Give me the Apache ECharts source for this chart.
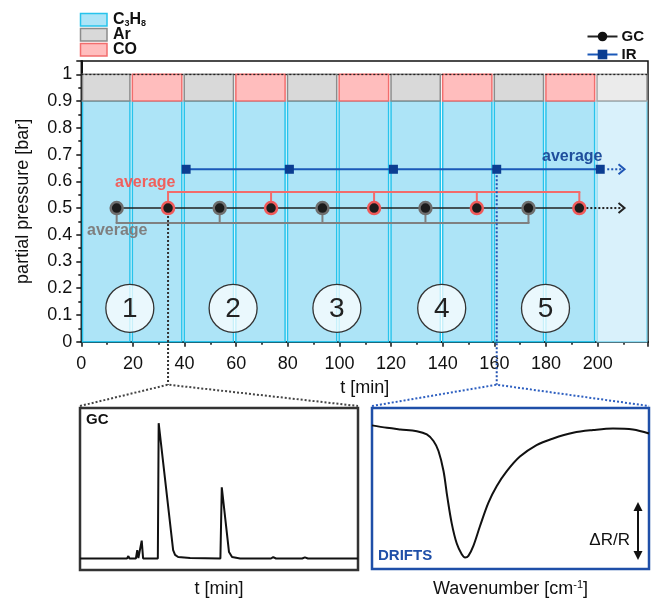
<!DOCTYPE html>
<html><head><meta charset="utf-8">
<script src="https://cdn.jsdelivr.net/npm/echarts@6/dist/echarts.min.js"></script>
<style>html,body{margin:0;padding:0;background:#fff}#c{width:651px;height:599px}</style>
</head><body><div id="c"></div><script>
// ---------------- data ----------------
const gcTimes = [13.7, 33.6, 53.6, 73.5, 93.4, 113.4, 133.3, 153.2, 173.2, 192.9];
const gcPhase = ['Ar','CO','Ar','CO','Ar','CO','Ar','CO','Ar','CO'];
const gcValue = 0.5;
const irTimes = [40.6, 80.6, 120.9, 160.9, 201.0];
const irValue = 0.645;
const blockEdges = [0, 19.3, 39.4, 59.4, 79.4, 99.4, 119.5, 139.5, 159.5, 179.5, 199.3, 219.5];
const blockGas = ['Ar','CO','Ar','CO','Ar','CO','Ar','CO','Ar','CO','next'];
const propaneLevel = 0.9;
const totalLevel = 1.0;
const coAvgLevel = 0.56;
const arAvgLevel = 0.444;
const arrowEnd = 210.4;
const stageLabels = ['1','2','3','4','5'];
const stageTimes = [18.8, 58.8, 99.0, 139.6, 179.8];
const stageLevel = 0.125;
const xTickStep = 20;
const yTickStep = 0.1;
const zoomGcIndex = 1;   // GC point shown in the inset
const zoomIrIndex = 3;   // IR point shown in the inset
// GC chromatogram (arbitrary units)
const gcTraceX = [0,16.9,17.4,17.8,20.1,20.6,21.0,21.7,22.2,22.7,28.0,28.3,28.8,33.5,34.2,35.3,39.6,50.5,51.0,51.3,53.6,54.7,57.6,68.7,69.5,70.5,79.9,80.9,82.0,100];
const gcTraceY = [7.1,7.1,8.6,7.1,7.1,12.3,7.4,7.4,18.1,7.1,7.1,90.6,89.8,12.3,9.3,8.0,7.4,7.1,51.0,50.0,11.1,8.0,7.1,7.1,8.0,7.1,7.1,7.8,7.1,7.1];
// DRIFTS spectrum (arbitrary units)
const irTraceX = [0,5.4,10.2,16.2,19.8,22.2,24.0,25.8,27.2,28.8,30.6,32.4,33.6,34.8,36.6,39.0,42.0,45.0,48.6,53.4,59.4,65.4,72.6,79.8,87.0,94.2,100];
const irTraceY = [89.2,87.7,86.7,85.6,83.6,79.5,73.3,61.0,44.6,28.2,15.8,9.2,7.2,8.2,14.4,26.7,41.1,51.4,60.6,69.8,77.0,81.1,84.6,86.3,87.3,86.7,84.2];

// ---------------- styles ----------------
const FONT = "'Liberation Sans', Arial, sans-serif";
const gasStyle = {
  Ar:   {fill:'#d9d9d9', stroke:'#8c8c8c'},
  CO:   {fill:'#ffbdbd', stroke:'#f26d6d'},
  next: {fill:'#ebebeb', stroke:'#a5a5a5'}
};
const propStyle = {fill:'#ade4f7', stroke:'#27c3ec'};
const propFaded = {fill:'#d9f1fb', stroke:'#8fdcf3'};
const phaseBorder = {Ar:'#6e6e6e', CO:'#f05a5a'};

const chart = echarts.init(document.getElementById('c'), null, {renderer:'canvas'});

const blockData = blockGas.map((g,i)=>[blockEdges[i], blockEdges[i+1]]);

function renderBlock(params, api){
  const i = params.dataIndex;
  const g = blockGas[i];
  const s = api.value(0), e = api.value(1);
  const pB = api.coord([s, 0]);
  const pM = api.coord([e, propaneLevel]);
  const pT = api.coord([e, totalLevel]);
  const x0 = pB[0] + 1.2, x1 = pM[0] - 1.2;
  const ps = g === 'next' ? propFaded : propStyle;
  const gs = gasStyle[g];
  return {type:'group', children:[
    {type:'rect', shape:{x:x0, y:pM[1], width:x1-x0, height:pB[1]-pM[1]}, style:{fill:ps.fill, stroke:ps.stroke, lineWidth:1.5}},
    {type:'rect', shape:{x:x0, y:pT[1], width:x1-x0, height:pM[1]-pT[1]}, style:{fill:gs.fill, stroke:gs.stroke, lineWidth:1.5}}
  ]};
}

function bracketSeries(name, times, level, color){
  return {
    type:'custom', name, xAxisIndex:0, yAxisIndex:0, z:4, silent:true,
    data: times.map(t=>[t, level]),
    renderItem(params, api){
      const i = params.dataIndex;
      const p = api.coord([times[i], gcValue]);
      const q = api.coord([times[i], level]);
      const ch = [{type:'line', shape:{x1:p[0], y1:p[1], x2:q[0], y2:q[1]}, style:{stroke:color, lineWidth:2}}];
      if (i < times.length - 1){
        const r = api.coord([times[i+1], level]);
        ch.push({type:'line', shape:{x1:q[0]-1, y1:q[1], x2:r[0]+1, y2:r[1]}, style:{stroke:color, lineWidth:2}});
      }
      return {type:'group', children:ch};
    }
  };
}

function arrowSeries(name, startT, level, color){
  return {
    type:'custom', name, xAxisIndex:0, yAxisIndex:0, z:4, silent:true,
    data:[[startT, level, arrowEnd]],
    renderItem(params, api){
      const a = api.coord([api.value(0), api.value(1)]);
      const b = api.coord([api.value(2), api.value(1)]);
      return {type:'group', children:[
        {type:'line', shape:{x1:a[0]+7, y1:a[1], x2:b[0]-2, y2:b[1]}, style:{stroke:color, lineWidth:2, lineDash:[2,2]}},
        {type:'polyline', shape:{points:[[b[0]-6,b[1]-5],[b[0],b[1]],[b[0]-6,b[1]+5]]}, style:{stroke:color, lineWidth:2, fill:null}}
      ]};
    }
  };
}

const coTimes = gcTimes.filter((t,i)=>gcPhase[i]==='CO');
const arTimes = gcTimes.filter((t,i)=>gcPhase[i]==='Ar');

const option = {
  animation:false,
  backgroundColor:'#fff',
  textStyle:{fontFamily:FONT},
  legend:{
    data:[{name:'GC', itemStyle:{borderWidth:0, color:'#111'}},{name:'IR'}],
    orient:'vertical', right:2, top:24, itemWidth:30, itemHeight:12, itemGap:3,
    textStyle:{fontFamily:FONT, fontSize:15, fontWeight:'bold', color:'#111', padding:[0,0,0,-1]},
    selectedMode:false
  },
  grid:[
    {left:81.3, top:61, width:567, height:280.7, show:true, borderColor:'#111', borderWidth:1.5, containLabel:false},
    {left:80, top:408, width:278, height:162, show:true, borderColor:'#333', borderWidth:2.5},
    {left:372, top:408, width:277, height:162, show:true, borderColor:'#1f4fa8', borderWidth:2.5}
  ],
  xAxis:[
    {type:'value', gridIndex:0, min:0, max:219.5, interval:xTickStep,
     axisLine:{show:true, onZero:false, lineStyle:{color:'#111', width:2}},
     axisTick:{show:true, length:5, lineStyle:{color:'#111', width:1.5}},
     minorTick:{show:true, splitNumber:2, length:3, lineStyle:{color:'#111', width:1.5}},
     splitLine:{show:false},
     axisLabel:{fontFamily:FONT, fontSize:18, color:'#111', margin:13,
       formatter:v=> (Math.abs(v % 20) < 1e-6 && v <= 200) ? String(Math.round(v)) : ''},
     name:'t [min]', nameLocation:'middle', nameGap:37,
     nameTextStyle:{fontFamily:FONT, fontSize:18, color:'#111'}},
    {type:'value', gridIndex:1, min:0, max:100, show:true,
     axisLine:{show:false}, axisTick:{show:false}, axisLabel:{show:false}, splitLine:{show:false},
     name:'t [min]', nameLocation:'middle', nameGap:10,
     nameTextStyle:{fontFamily:FONT, fontSize:18, color:'#111'}},
    {type:'value', gridIndex:2, min:0, max:100, show:true,
     axisLine:{show:false}, axisTick:{show:false}, axisLabel:{show:false}, splitLine:{show:false},
     name:'Wavenumber [cm{sup|-1}]', nameLocation:'middle', nameGap:10,
     nameTextStyle:{fontFamily:FONT, fontSize:18, color:'#111',
       rich:{sup:{fontFamily:FONT, fontSize:11, color:'#111', padding:[0,0,9,0]}}}}
  ],
  yAxis:[
    {type:'value', gridIndex:0, min:0, max:1.05, interval:yTickStep,
     axisLine:{show:true, onZero:false, lineStyle:{color:'#111', width:2}},
     axisTick:{show:true, length:5, lineStyle:{color:'#111', width:1.5}},
     minorTick:{show:true, splitNumber:2, length:3, lineStyle:{color:'#111', width:1.5}},
     splitLine:{show:false},
     axisLabel:{fontFamily:FONT, fontSize:18, color:'#111', margin:9,
       formatter:v=>{
         const k = Math.round(v*10);
         if (Math.abs(v*10-k) > 1e-6 || k > 10) return '';
         return k === 0 ? '0' : (k === 10 ? '1' : (k/10).toFixed(1));
       }},
     name:'partial pressure [bar]', nameLocation:'middle', nameGap:49,
     nameTextStyle:{fontFamily:FONT, fontSize:18, color:'#111'}},
    {type:'value', gridIndex:1, min:0, max:100, show:false},
    {type:'value', gridIndex:2, min:0, max:100, show:false}
  ],
  series:[
    {type:'custom', name:'blocks', xAxisIndex:0, yAxisIndex:0, z:1, silent:true,
     data:blockData, encode:{x:[0,1]}, renderItem:renderBlock,
     markLine:{silent:true, symbol:'none', label:{show:false},
       lineStyle:{color:'#222', type:[2,2], width:1.3},
       data:[{yAxis:totalLevel}]}},
    {type:'custom', name:'stages', xAxisIndex:0, yAxisIndex:0, z:2, silent:true,
     data:stageTimes.map((t,i)=>[t, stageLevel, i]),
     renderItem(params, api){
       const p = api.coord([api.value(0), api.value(1)]);
       return {type:'group', children:[
         {type:'circle', shape:{cx:p[0], cy:p[1], r:24}, style:{fill:'rgba(255,255,255,0.75)', stroke:'#333', lineWidth:1.3}},
         {type:'text', style:{text:stageLabels[params.dataIndex], x:p[0], y:p[1]+1, align:'center', verticalAlign:'middle',
           textAlign:'center', textVerticalAlign:'middle', fontSize:28, fontFamily:FONT, fill:'#222'}}
       ]};
     }},
    bracketSeries('CO average', coTimes, coAvgLevel, '#f26b6b'),
    bracketSeries('Ar average', arTimes, arAvgLevel, '#808080'),
    arrowSeries('GC trend', gcTimes[gcTimes.length-1], gcValue, '#222'),
    arrowSeries('IR trend', irTimes[irTimes.length-1], irValue, '#1f56b5'),
    {type:'line', name:'IR', xAxisIndex:0, yAxisIndex:0, z:5,
     data:irTimes.map(t=>[t, irValue]),
     symbol:'rect', symbolSize:9,
     itemStyle:{color:'#0b3d91'},
     lineStyle:{color:'#1a58b8', width:2}},
    {type:'line', name:'GC', xAxisIndex:0, yAxisIndex:0, z:6,
     data:gcTimes.map((t,i)=>({value:[t, gcValue], itemStyle:{borderColor:phaseBorder[gcPhase[i]]}})),
     symbol:'circle', symbolSize:12,
     itemStyle:{color:'#1c1c1c', borderColor:'#6e6e6e', borderWidth:2.5},
     lineStyle:{color:'#222', width:1.5}},
    {type:'line', name:'GC trace', xAxisIndex:1, yAxisIndex:1, silent:true,
     data:gcTraceX.map((x,i)=>[x, gcTraceY[i]]), symbol:'none',
     lineStyle:{color:'#111', width:2}},
    {type:'line', name:'DRIFTS trace', xAxisIndex:2, yAxisIndex:2, silent:true, smooth:0.35,
     data:irTraceX.map((x,i)=>[x, irTraceY[i]]), symbol:'none',
     lineStyle:{color:'#111', width:2}}
  ]
};

chart.setOption(option);

// connectors and annotations
const gcPt = chart.convertToPixel({gridIndex:0}, [gcTimes[zoomGcIndex], gcValue]);
const irPt = chart.convertToPixel({gridIndex:0}, [irTimes[zoomIrIndex], irValue]);
const axisY = chart.convertToPixel({gridIndex:0}, [0, 0])[1];
const junctionY = axisY + 43;
const gcTL = chart.convertToPixel({gridIndex:1}, [0, 100]);
const gcTR = chart.convertToPixel({gridIndex:1}, [100, 100]);
const irTL = chart.convertToPixel({gridIndex:2}, [0, 100]);
const irTR = chart.convertToPixel({gridIndex:2}, [100, 100]);

const dotted = (pts, color)=>({type:'polyline', z:10, silent:true, shape:{points:pts},
  style:{stroke:color, lineWidth:2, lineDash:[2,2], fill:null}});

const graphics = [
  dotted([[gcPt[0], gcPt[1]+8],[gcPt[0], junctionY]], '#333'),
  dotted([[gcTL[0], gcTL[1]-2],[gcPt[0], junctionY],[gcTR[0], gcTR[1]-2]], '#444'),
  dotted([[irPt[0], irPt[1]+6],[irPt[0], junctionY]], '#2251b0'),
  dotted([[irTL[0], irTL[1]-2],[irPt[0], junctionY],[irTR[0], irTR[1]-2]], '#2d5fc0'),
  // average labels
  {type:'text', z:10, silent:true, style:{text:'average', x:115, y:183, verticalAlign:'middle', textVerticalAlign:'middle',
    fontFamily:FONT, fontSize:16, fontWeight:'bold', fill:'#f0605d'}},
  {type:'text', z:10, silent:true, style:{text:'average', x:87, y:231, verticalAlign:'middle', textVerticalAlign:'middle',
    fontFamily:FONT, fontSize:16, fontWeight:'bold', fill:'#7f7f7f'}},
  {type:'text', z:10, silent:true, style:{text:'average', x:542, y:157, verticalAlign:'middle', textVerticalAlign:'middle',
    fontFamily:FONT, fontSize:16, fontWeight:'bold', fill:'#1f4e9c'}},
  // gas legend
  {type:'rect', silent:true, shape:{x:80.5, y:13.5, width:26.5, height:12.5}, style:{fill:propStyle.fill, stroke:propStyle.stroke, lineWidth:1.5}},
  {type:'rect', silent:true, shape:{x:80.5, y:28.5, width:26.5, height:12.5}, style:{fill:gasStyle.Ar.fill, stroke:gasStyle.Ar.stroke, lineWidth:1.5}},
  {type:'rect', silent:true, shape:{x:80.5, y:43.5, width:26.5, height:12.5}, style:{fill:gasStyle.CO.fill, stroke:gasStyle.CO.stroke, lineWidth:1.5}},
  {type:'text', silent:true, style:{text:'C{s|3}H{s|8}', x:113, y:20, verticalAlign:'middle', textVerticalAlign:'middle',
    fontFamily:FONT, fontSize:16, fontWeight:'bold', fill:'#111',
    rich:{s:{fontFamily:FONT, fontSize:9, fontWeight:'bold', fill:'#111', padding:[8,0,0,0]}}}},
  {type:'text', silent:true, style:{text:'Ar', x:113, y:35, verticalAlign:'middle', textVerticalAlign:'middle',
    fontFamily:FONT, fontSize:16, fontWeight:'bold', fill:'#111'}},
  {type:'text', silent:true, style:{text:'CO', x:113, y:50, verticalAlign:'middle', textVerticalAlign:'middle',
    fontFamily:FONT, fontSize:16, fontWeight:'bold', fill:'#111'}},
  // inset labels
  {type:'text', z:10, silent:true, style:{text:'GC', x:gcTL[0]+6, y:gcTL[1]+12, verticalAlign:'middle', textVerticalAlign:'middle',
    fontFamily:FONT, fontSize:15, fontWeight:'bold', fill:'#111'}},
  {type:'text', z:10, silent:true, style:{text:'DRIFTS', x:irTL[0]+6, y:irTL[1]+148, verticalAlign:'middle', textVerticalAlign:'middle',
    fontFamily:FONT, fontSize:15, fontWeight:'bold', fill:'#1f4fa8'}},
  {type:'text', z:10, silent:true, style:{text:'\u0394R/R', x:irTR[0]-19, y:irTL[1]+132, align:'right', textAlign:'right',
    verticalAlign:'middle', textVerticalAlign:'middle', fontFamily:FONT, fontSize:17, fill:'#111'}},
  {type:'line', z:10, silent:true, shape:{x1:irTR[0]-11, y1:irTL[1]+100, x2:irTR[0]-11, y2:irTL[1]+146}, style:{stroke:'#111', lineWidth:2}},
  {type:'polygon', z:10, silent:true, shape:{points:[[irTR[0]-11, irTL[1]+94],[irTR[0]-15.5, irTL[1]+103],[irTR[0]-6.5, irTL[1]+103]]}, style:{fill:'#111'}},
  {type:'polygon', z:10, silent:true, shape:{points:[[irTR[0]-11, irTL[1]+152],[irTR[0]-15.5, irTL[1]+143],[irTR[0]-6.5, irTL[1]+143]]}, style:{fill:'#111'}}
];

chart.setOption({graphic:graphics});
</script></body></html>
